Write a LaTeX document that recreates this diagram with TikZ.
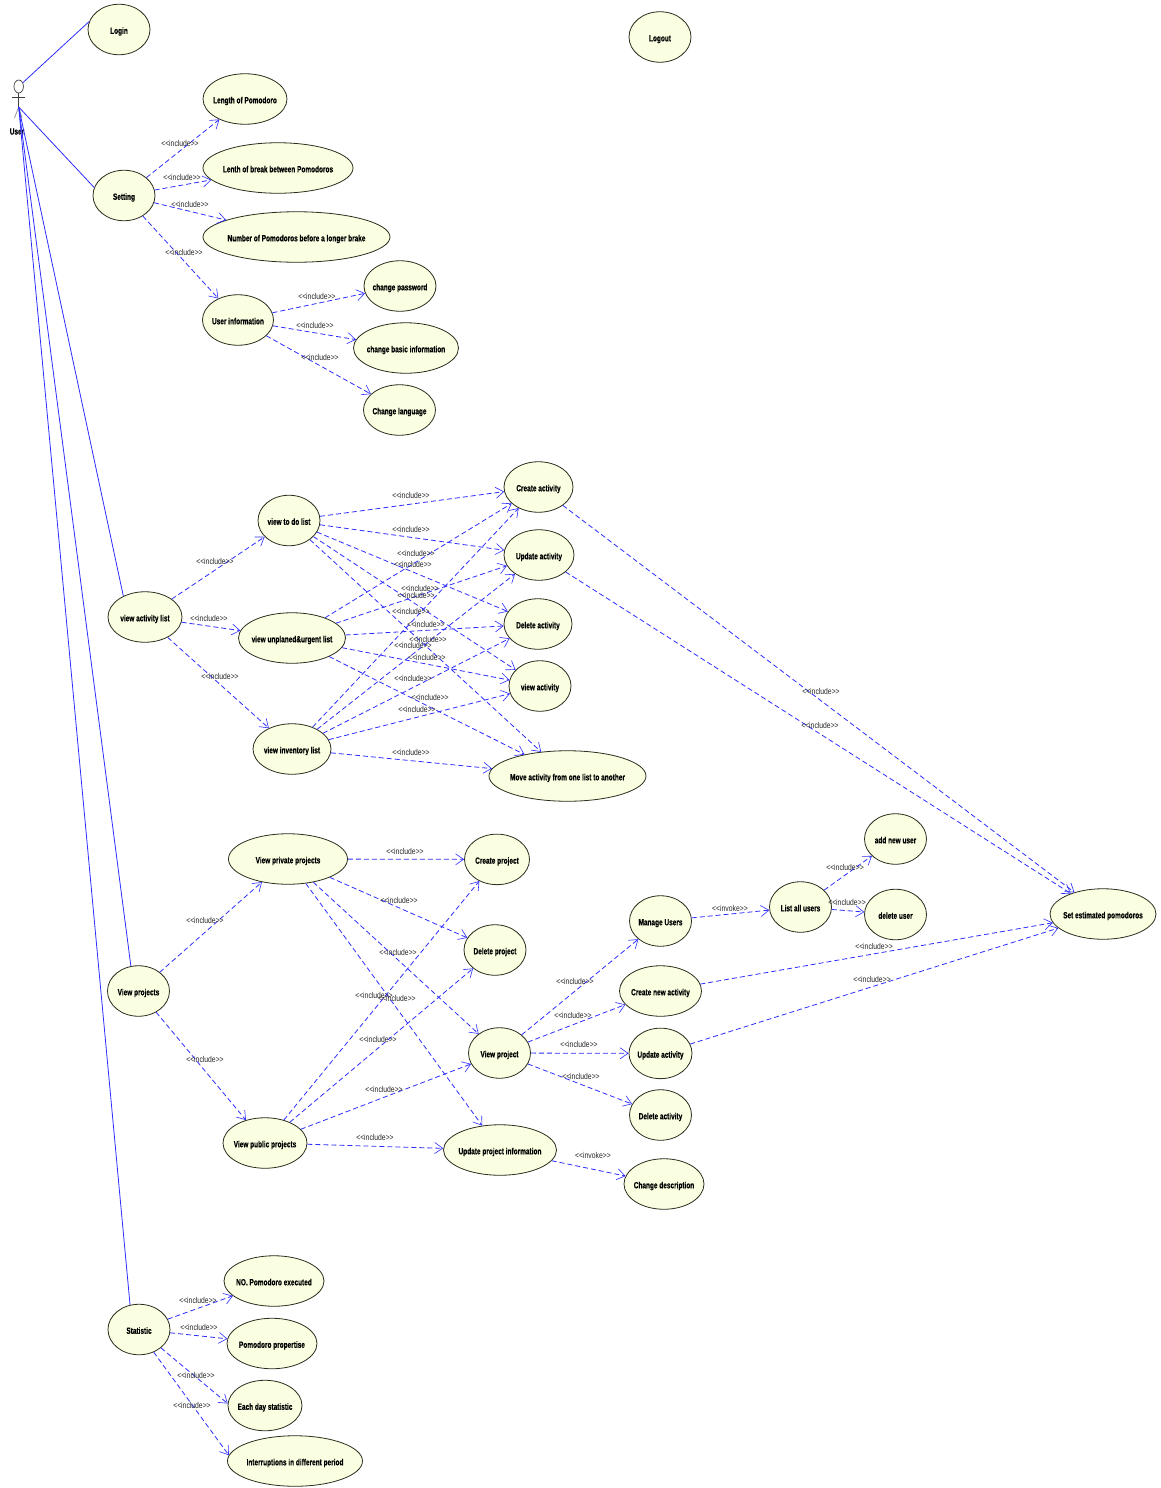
\documentclass[tikz,border=0pt]{standalone}
\usepackage{fontspec}
\setmainfont{Liberation Sans}
\newfontfamily\ucfont[FakeStretch=0.72,FakeBold=0.4]{Liberation Sans Bold}
\newfontfamily\lblfont[FakeStretch=0.8]{Liberation Sans}
\usetikzlibrary{shapes.geometric,arrows.meta}
\definecolor{ucfill}{RGB}{250,255,225}
\definecolor{ucline}{RGB}{45,45,30}
\definecolor{linkblue}{RGB}{45,45,255}
\tikzset{
  usecase/.style={ellipse,draw=ucline,fill=ucfill,line width=0.8pt,inner sep=0pt,minimum height=50.5pt,font=\ucfont\fontsize{9}{10}\selectfont},
  inc/.style={draw=linkblue,line width=0.8pt,dash pattern=on 5pt off 3pt,-{Straight Barb[length=8pt,width=11pt,line width=0.6pt]}},
  assoc/.style={draw=linkblue,line width=0.8pt},
  stereo/.style={font=\lblfont\fontsize{8.5}{10}\selectfont,text=black!85,inner sep=0pt},
  actorline/.style={draw=black!75,line width=0.7pt}
}
\newcommand{\uc}[5]{\node[usecase,minimum width=#4pt] (#1) at (#2,#3) {\makebox[0pt]{\smash{\raisebox{-4.3pt}{#5}}}};}
\newcommand{\lbl}[3]{\node[stereo] at (#1,#2) {<{}<#3>{}>};}
\begin{document}
\begin{tikzpicture}[x=1pt,y=-1pt]
\useasboundingbox[fill=white] (0,0) rectangle (1160,1488);
% actor
\node[ellipse,draw=black!75,fill=white,line width=0.7pt,minimum width=9.5pt,minimum height=13pt,inner sep=0pt] (head) at (18.7,86.5) {};
\coordinate (hub) at (18.7,107);
\coordinate (armL) at (12,97);
\coordinate (armR) at (25,97);
\coordinate (legL) at (14.5,118);
\coordinate (legR) at (22,118);
\draw[actorline] (head) -- (hub) (armL) -- (armR);
\draw[actorline,draw=black!45] (hub) -- (legL) (hub) -- (legR);
\node[font=\ucfont\fontsize{9}{10}\selectfont,inner sep=0pt] (userlabel) at (17,131.5) {User};
% use cases
\uc{login}{119}{29.5}{62}{Login}
\uc{logout}{660}{37}{62}{Logout}
\uc{length}{245}{99}{84}{Length of Pomodoro}
\uc{lenth}{278}{168}{150}{Lenth of break between Pomodoros}
\uc{number}{296.5}{237}{187}{Number of Pomodoros before a longer brake}
\uc{setting}{124}{195.5}{62}{Setting}
\uc{userinfo}{238}{320}{71}{User information}
\uc{chpass}{400}{286}{72}{change password}
\uc{chbasic}{406}{348}{105}{change basic information}
\uc{chlang}{399.5}{410}{72}{Change language}
\uc{actlist}{145}{617}{74}{view activity list}
\uc{todo}{289}{520.5}{62}{view to do list}
\uc{urgent}{292}{638}{107}{view unplaned\&urgent list}
\uc{invent}{292}{749}{78}{view inventory list}
\uc{createa}{538.5}{487}{69}{Create activity}
\uc{updatea}{539}{555}{70}{Update activity}
\uc{deletea}{538}{624}{68}{Delete activity}
\uc{viewa}{540}{686}{62}{view activity}
\uc{movea}{567.5}{776}{157}{Move activity from one list to another}
\uc{private}{288}{859}{119}{View private projects}
\uc{createp}{497}{859.4}{65}{Create project}
\uc{deletep}{495}{950}{62}{Delete project}
\uc{projects}{138.5}{991}{62}{View projects}
\uc{public}{265}{1143}{84}{View public projects}
\uc{viewp}{499.5}{1053}{62}{View project}
\uc{updinfo}{500}{1150}{113}{Update project information}
\uc{manage}{660.5}{921}{62}{Manage Users}
\uc{createn}{660.5}{991}{82}{Create new activity}
\uc{updateb}{660.5}{1053.4}{63}{Update activity}
\uc{deleteb}{660.5}{1115}{62}{Delete activity}
\uc{chdesc}{664}{1184}{80}{Change description}
\uc{listu}{800.5}{907}{62}{List all users}
\uc{addu}{895.5}{839}{62}{add new user}
\uc{delu}{895.5}{914.5}{62}{delete user}
\uc{setest}{1103}{914}{106}{Set estimated pomodoros}
\uc{stat}{139}{1329.5}{62}{Statistic}
\uc{nopom}{274}{1281}{100}{NO. Pomodoro executed}
\uc{pomprop}{272}{1343.5}{90}{Pomodoro propertise}
\uc{eachday}{265}{1405.5}{74}{Each day statistic}
\uc{interr}{295}{1461}{135}{Interruptions in different period}
% actor associations
\draw[assoc] (head) -- (login.165);
\draw[assoc] (hub) -- (setting.165);
\draw[assoc] (hub) -- (actlist.136);
\draw[assoc] (hub) -- (projects.107);
\draw[assoc] (hub) -- (stat.110);
% include / invoke
\foreach \a/\b in {setting/length,setting/lenth,setting/number,setting/userinfo,
 userinfo/chpass,userinfo/chbasic,userinfo/chlang,
 actlist/todo,actlist/urgent,actlist/invent,
 todo/createa,todo/updatea,todo/deletea,todo/viewa,todo/movea,
 urgent/createa,urgent/updatea,urgent/deletea,urgent/viewa,urgent/movea,
 invent/createa,invent/updatea,invent/deletea,invent/viewa,invent/movea,
 createa/setest,updatea/setest,
 projects/private,projects/public,
 private/createp,private/deletep,private/viewp,private/updinfo,
 public/createp,public/deletep,public/viewp,public/updinfo,
 viewp/manage,viewp/createn,viewp/updateb,viewp/deleteb,
 updinfo/chdesc,manage/listu,listu/addu,listu/delu,
 createn/setest,updateb/setest,
 stat/nopom,stat/pomprop}
 {\draw[inc] (\a) -- (\b);}
\draw[inc] (stat.-40) -- (eachday.177);
\draw[inc] (stat.-57) -- (interr.175);
% labels
\foreach \x/\y in {180/143,182/177,190/204,184/252,317/296,315/325,320/357,215/561,209/618,220/676,
 411/495,411/529,416/553,413/564,420/588,416/595,411/611,426/624,428/639,413/645,427/657,413/678,430/697,417/709,411/752,
 821/691,820/725,205/920,205/1059,405/851,399/900,398/952,397/998,374/995,378/1039,384/1089,375/1137,
 575/981,573/1015,579/1044,581/1076,845/867,847/902,874/946,872/979,198/1300,199/1327,196/1375,192/1405}
 {\lbl{\x}{\y}{include}}
\lbl{593}{1155}{invoke}
\lbl{730}{908}{invoke}
\end{tikzpicture}
\end{document}
